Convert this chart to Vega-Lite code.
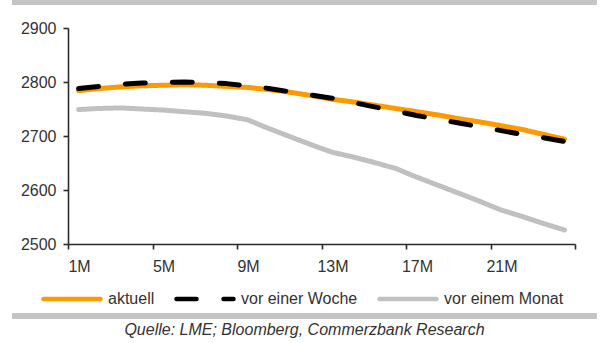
{
  "$schema": "https://vega.github.io/schema/vega-lite/v6.json",
  "width": 507,
  "height": 216,
  "autosize": {"type": "none"},
  "padding": {"left": 68, "top": 28, "right": 28, "bottom": 99},
  "background": "white",
  "config": {
    "font": "Liberation Sans",
    "view": {"stroke": null},
    "axis": {
      "labelFont": "Liberation Sans",
      "labelFontSize": 16,
      "labelColor": "#333333",
      "domainColor": "#2b2b2b",
      "tickColor": "#2b2b2b",
      "domainWidth": 1.6,
      "tickWidth": 1.6,
      "grid": false,
      "title": null
    }
  },
  "title": {
    "text": "Quelle: LME; Bloomberg, Commerzbank Research",
    "orient": "bottom",
    "anchor": "middle",
    "frame": "group",
    "font": "Liberation Sans",
    "fontSize": 16,
    "fontStyle": "italic",
    "fontWeight": "normal",
    "color": "#333333",
    "dx": -17,
    "offset": 4
  },
  "data": {
    "values": [
      {"m": 1, "serie": "aktuell", "wert": 2784},
      {"m": 2, "serie": "aktuell", "wert": 2788},
      {"m": 3, "serie": "aktuell", "wert": 2791},
      {"m": 4, "serie": "aktuell", "wert": 2793},
      {"m": 5, "serie": "aktuell", "wert": 2794},
      {"m": 6, "serie": "aktuell", "wert": 2795},
      {"m": 7, "serie": "aktuell", "wert": 2794},
      {"m": 8, "serie": "aktuell", "wert": 2792},
      {"m": 9, "serie": "aktuell", "wert": 2790},
      {"m": 10, "serie": "aktuell", "wert": 2786},
      {"m": 11, "serie": "aktuell", "wert": 2781},
      {"m": 12, "serie": "aktuell", "wert": 2775},
      {"m": 13, "serie": "aktuell", "wert": 2768},
      {"m": 14, "serie": "aktuell", "wert": 2763},
      {"m": 15, "serie": "aktuell", "wert": 2757},
      {"m": 16, "serie": "aktuell", "wert": 2751},
      {"m": 17, "serie": "aktuell", "wert": 2745},
      {"m": 18, "serie": "aktuell", "wert": 2739},
      {"m": 19, "serie": "aktuell", "wert": 2732},
      {"m": 20, "serie": "aktuell", "wert": 2726},
      {"m": 21, "serie": "aktuell", "wert": 2719},
      {"m": 22, "serie": "aktuell", "wert": 2712},
      {"m": 23, "serie": "aktuell", "wert": 2703},
      {"m": 24, "serie": "aktuell", "wert": 2694},
      {"m": 1, "serie": "vor einem Monat", "wert": 2749},
      {"m": 2, "serie": "vor einem Monat", "wert": 2751},
      {"m": 3, "serie": "vor einem Monat", "wert": 2752},
      {"m": 4, "serie": "vor einem Monat", "wert": 2750},
      {"m": 5, "serie": "vor einem Monat", "wert": 2748},
      {"m": 6, "serie": "vor einem Monat", "wert": 2745},
      {"m": 7, "serie": "vor einem Monat", "wert": 2742},
      {"m": 8, "serie": "vor einem Monat", "wert": 2737},
      {"m": 9, "serie": "vor einem Monat", "wert": 2730},
      {"m": 10, "serie": "vor einem Monat", "wert": 2714},
      {"m": 11, "serie": "vor einem Monat", "wert": 2699},
      {"m": 12, "serie": "vor einem Monat", "wert": 2684},
      {"m": 13, "serie": "vor einem Monat", "wert": 2670},
      {"m": 14, "serie": "vor einem Monat", "wert": 2661},
      {"m": 15, "serie": "vor einem Monat", "wert": 2651},
      {"m": 16, "serie": "vor einem Monat", "wert": 2640},
      {"m": 17, "serie": "vor einem Monat", "wert": 2624},
      {"m": 18, "serie": "vor einem Monat", "wert": 2609},
      {"m": 19, "serie": "vor einem Monat", "wert": 2594},
      {"m": 20, "serie": "vor einem Monat", "wert": 2579},
      {"m": 21, "serie": "vor einem Monat", "wert": 2563},
      {"m": 22, "serie": "vor einem Monat", "wert": 2551},
      {"m": 23, "serie": "vor einem Monat", "wert": 2538},
      {"m": 24, "serie": "vor einem Monat", "wert": 2526},
      {"m": 1, "serie": "vor einer Woche", "wert": 2788},
      {"m": 2, "serie": "vor einer Woche", "wert": 2792},
      {"m": 3, "serie": "vor einer Woche", "wert": 2796},
      {"m": 4, "serie": "vor einer Woche", "wert": 2798},
      {"m": 5, "serie": "vor einer Woche", "wert": 2799},
      {"m": 6, "serie": "vor einer Woche", "wert": 2800},
      {"m": 7, "serie": "vor einer Woche", "wert": 2799},
      {"m": 8, "serie": "vor einer Woche", "wert": 2797},
      {"m": 9, "serie": "vor einer Woche", "wert": 2793},
      {"m": 10, "serie": "vor einer Woche", "wert": 2788},
      {"m": 11, "serie": "vor einer Woche", "wert": 2782},
      {"m": 12, "serie": "vor einer Woche", "wert": 2776},
      {"m": 13, "serie": "vor einer Woche", "wert": 2770},
      {"m": 14, "serie": "vor einer Woche", "wert": 2762},
      {"m": 15, "serie": "vor einer Woche", "wert": 2754},
      {"m": 16, "serie": "vor einer Woche", "wert": 2746},
      {"m": 17, "serie": "vor einer Woche", "wert": 2738},
      {"m": 18, "serie": "vor einer Woche", "wert": 2731},
      {"m": 19, "serie": "vor einer Woche", "wert": 2724},
      {"m": 20, "serie": "vor einer Woche", "wert": 2717},
      {"m": 21, "serie": "vor einer Woche", "wert": 2710},
      {"m": 22, "serie": "vor einer Woche", "wert": 2703},
      {"m": 23, "serie": "vor einer Woche", "wert": 2697},
      {"m": 24, "serie": "vor einer Woche", "wert": 2690}
    ]
  },
  "layer": [
    {
      "description": "grey band along the top edge",
      "mark": {"type": "rule", "color": "#c4c4c4", "strokeWidth": 5, "clip": false},
      "encoding": {
        "x": {"datum": -2.15, "type": "quantitative", "scale": {"domain": [0.5, 24.5]}},
        "x2": {"datum": 25.5},
        "y": {"datum": 2948, "type": "quantitative", "scale": {"domain": [2500, 2900]}}
      }
    },
    {
      "description": "grey separator between legend and source line",
      "mark": {"type": "rule", "color": "#c4c4c4", "strokeWidth": 5, "clip": false},
      "encoding": {
        "x": {"datum": -2.15, "type": "quantitative"},
        "x2": {"datum": 25.5},
        "y": {"datum": 2366.7, "type": "quantitative"}
      }
    },
    {
      "mark": {"type": "line", "strokeWidth": 5, "strokeCap": "round", "strokeJoin": "round"},
      "encoding": {
        "x": {
          "field": "m",
          "type": "quantitative",
          "scale": {"domain": [0.5, 24.5], "nice": false, "zero": false},
          "axis": {
            "values": [0.5, 4.5, 8.5, 12.5, 16.5, 20.5, 24.5],
            "labelExpr": "datum.value < 24 ? (datum.value + 0.5) + 'M' : ''",
            "labelOffset": 11,
            "labelFlush": false,
            "labelOverlap": false,
            "labelBound": false,
            "tickSize": 5,
            "labelPadding": 9
          }
        },
        "y": {
          "field": "wert",
          "type": "quantitative",
          "scale": {"domain": [2500, 2900], "nice": false, "zero": false},
          "axis": {
            "values": [2500, 2600, 2700, 2800, 2900],
            "format": "d",
            "tickSize": 5,
            "labelPadding": 7
          }
        },
        "color": {
          "field": "serie",
          "type": "nominal",
          "scale": {
            "domain": ["aktuell", "vor einer Woche", "vor einem Monat"],
            "range": ["#ff9900", "#000000", "#c0c0c0"]
          },
          "legend": {
            "title": null,
            "orient": "none",
            "direction": "horizontal",
            "legendX": -27,
            "legendY": 240,
            "symbolType": "stroke",
            "symbolSize": 3249,
            "symbolStrokeWidth": 4.5,
            "labelFont": "Liberation Sans",
            "labelFontSize": 16,
            "labelColor": "#333333",
            "labelOffset": 5,
            "columnPadding": 12,
            "encode": {
              "symbols": {
                "update": {
                  "strokeDash": {"signal": "datum.value === 'vor einer Woche' ? [15, 19] : [1, 0]"},
                  "strokeCap": {"value": "round"}
                }
              }
            }
          }
        },
        "strokeDash": {
          "field": "serie",
          "type": "nominal",
          "scale": {
            "domain": ["aktuell", "vor einer Woche", "vor einem Monat"],
            "range": [[1, 0], [20, 27], [1, 0]]
          },
          "legend": null
        }
      }
    }
  ]
}
